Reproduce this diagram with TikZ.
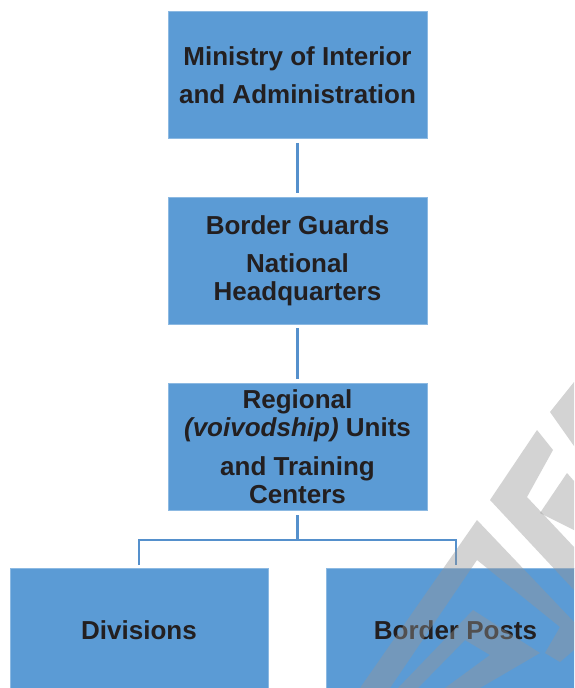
\documentclass[tikz,border=0pt]{standalone}
\usepackage{fontspec}
\setmainfont{Liberation Sans}
\definecolor{boxblue}{HTML}{5B9BD5}
\definecolor{lineblue}{HTML}{5590CC}
\definecolor{txt}{HTML}{231F20}
\definecolor{wm}{RGB}{150,150,150}
\tikzset{
  orgbox/.style={fill=boxblue, draw=boxblue!70!white, line width=0.8pt, minimum width=259pt, inner sep=0pt, text=txt, align=center, font=\bfseries\fontsize{26}{28}\selectfont},
  conn/.style={draw=lineblue, line width=2.4pt},
  wmark/.style={fill=wm, fill opacity=0.41, draw=none}
}
\begin{document}
\begin{tikzpicture}[x=1pt,y=-1pt]
\useasboundingbox (0,0) rectangle (574,688);
\clip (0,0) rectangle (574,688);
\fill[white] (0,0) rectangle (574,688);
\node[orgbox, minimum height=127pt] (mia) at (297.5,75) {Ministry of Interior\\[10pt]and Administration};
\node[orgbox, minimum height=127pt] (bg) at (297.5,260.5) {Border Guards\\[10pt]National\\Headquarters};
\node[orgbox, minimum height=127pt] (reg) at (297.5,446.5) {Regional\\\textit{(voivodship)} Units\\[11pt]and Training\\Centers};
\node[orgbox, minimum height=124pt, minimum width=258pt] (div) at (139,630) {Divisions};
\node[orgbox, minimum height=124pt, minimum width=258pt] (bp) at (455.5,630) {Border Posts};
\coordinate (j) at (297.5,540);
\coordinate (dj) at (139,565);
\coordinate (bj) at (456,565);
\draw[conn] ([yshift=-4pt]mia.south) -- ([yshift=4pt]bg.north);
\draw[conn] ([yshift=-4pt]bg.south) -- ([yshift=4pt]reg.north);
\draw[conn] ([yshift=-5pt]reg.south) -- (j);
\draw[conn] (dj) |- (j) -| (bj);
% watermark
\fill[wmark] (574,382) -- (550,412) -- (574,446) -- cycle;
\fill[wmark] (537,430) -- (553,450) -- (527,497) -- (574,547) -- (574,590) -- (490,500) -- cycle;
\fill[wmark] (540,513) -- (567,473) -- (574,481) -- (574,530) -- cycle;
\fill[wmark] (477,520) -- (574,622) -- (574,650) -- (560,662) -- (545,653) -- (560,627) -- (477,560) -- (390,688) -- (360,688) -- cycle;
\fill[wmark] (473,610) -- (540,653) -- (480,688) -- (445,688) -- (490,655) -- (465,640) -- (418,688) -- (398,688) -- cycle;
\end{tikzpicture}
\end{document}
